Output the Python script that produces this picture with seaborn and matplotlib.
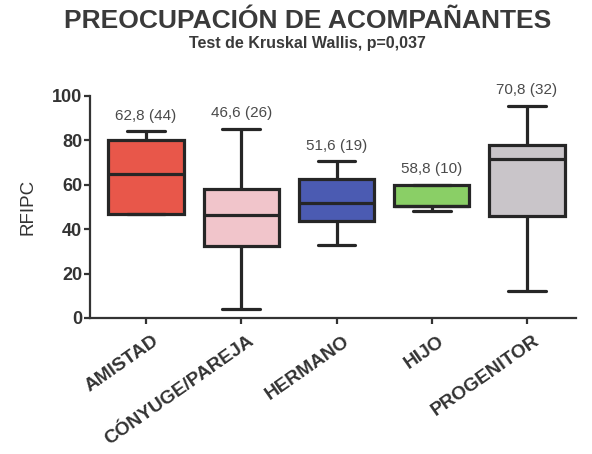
import pandas as pd
import numpy as np
import seaborn as sns
import matplotlib
matplotlib.use('Agg')
import matplotlib.pyplot as plt
import matplotlib.transforms as mtransforms

sns.set_style('white')
plt.rcParams['font.family'] = ['Liberation Sans', 'DejaVu Sans']

#%% Data (five-number summary per group)
grupos = ['AMISTAD', 'CÓNYUGE/PAREJA', 'HERMANO', 'HIJO', 'PROGENITOR']
minimos = [47, 4, 33, 48, 12]
q1 = [47, 32.5, 43.5, 50.5, 46]
medianas = [65, 46.5, 52, 50.5, 71.5]
q3 = [80, 58, 62.5, 60, 78]
maximos = [84, 85, 70.5, 60, 95.5]
etiquetas = ['62,8 (44)', '46,6 (26)', '51,6 (19)', '58,8 (10)', '70,8 (32)']
colores = ['#E8574A', '#F1C5CB', '#4B5BB2', '#8ACF66', '#C9C5C9']

filas = []
for g, a, b, c, d, e in zip(grupos, minimos, q1, medianas, q3, maximos):
    for v in (a, b, c, d, e):
        filas.append({'grupo': g, 'RFIPC': v})
df = pd.DataFrame(filas)

#%% Plot
fig = plt.figure(figsize=(5.92, 4.54), dpi=100)
ax = fig.add_axes([0.152, 0.2996, 0.821, 0.489])

sns.boxplot(data=df, x='grupo', y='RFIPC', hue='grupo', palette=colores,
            whis=(0, 100), width=0.79, linewidth=2.3, linecolor='#262626',
            showfliers=False, saturation=1, legend=False, ax=ax)

for i, (m, txt) in enumerate(zip(maximos, etiquetas)):
    ax.text(i, m + 4, txt, ha='center', va='bottom', fontsize=11,
            color='#4a4a4a', clip_on=False)

ax.set_xlim(-0.588, 4.514)
ax.set_ylim(0, 100)
ax.set_yticks([0, 20, 40, 60, 80, 100])
ax.set_xlabel('')
ax.set_ylabel('RFIPC', fontsize=13.5, color='#333333', labelpad=11)
for s in ['top', 'right']:
    ax.spines[s].set_visible(False)
for s in ['left', 'bottom']:
    ax.spines[s].set_linewidth(1.6)
    ax.spines[s].set_color('#333333')
ax.tick_params(axis='both', length=4.5, width=1.6, color='#333333',
               direction='out', bottom=True, left=True)
ax.tick_params(axis='y', labelsize=13, labelcolor='#333333', pad=1)
ax.tick_params(axis='x', pad=6)
for t in ax.get_yticklabels():
    t.set_fontweight('bold')
ax.set_xticks(range(len(grupos)))
ax.set_xticklabels(grupos, rotation=35, ha='right', va='top',
                   rotation_mode='anchor', fontsize=13.8, fontweight='bold',
                   color='#333333')
desplaza = mtransforms.ScaledTranslation(0.06, 0, fig.dpi_scale_trans)
for t in ax.get_xticklabels():
    t.set_transform(t.get_transform() + desplaza)

fig.text(0.52, 0.954, 'PREOCUPACIÓN DE ACOMPAÑANTES', ha='center', va='center',
         fontsize=19, fontweight='bold', color='#3a3a3a')
fig.text(0.52, 0.905, 'Test de Kruskal Wallis, p=0,037', ha='center', va='center',
         fontsize=11.5, fontweight='bold', color='#3a3a3a')

fig.savefig('out.png', dpi=100)
